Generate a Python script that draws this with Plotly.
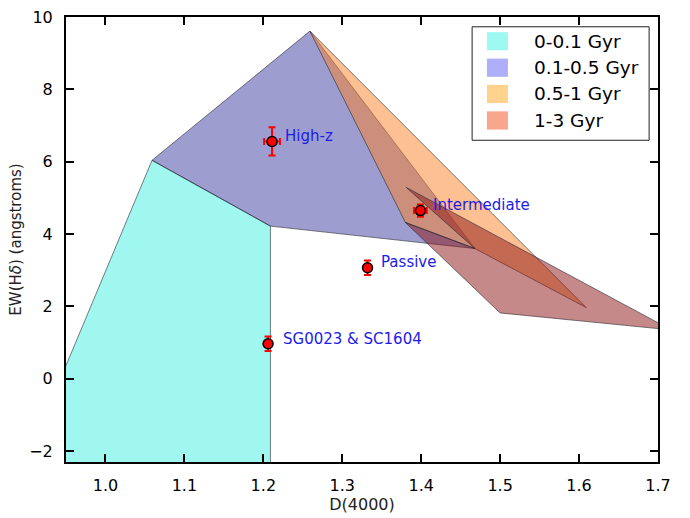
import plotly.graph_objects as go

# Age-bin regions in the D(4000) / EW(Hdelta) plane (polygon vertices)
age_labels = ["0-0.1 Gyr", "0.1-0.5 Gyr", "0.5-1 Gyr", "1-3 Gyr"]

young_d4000 = [0.893, 1.059, 1.209, 1.209]
young_ewhd = [-2.6, 6.04, 4.22, -2.6]

mid_d4000 = [1.059, 1.259, 1.468, 1.209]
mid_ewhd = [6.04, 9.61, 3.60, 4.22]

inter_d4000 = [1.259, 1.609, 1.468, 1.380]
inter_ewhd = [9.61, 1.97, 3.60, 4.32]

old_d4000 = [1.381, 1.717, 1.500, 1.380, 1.468]
old_ewhd = [5.29, 1.35, 1.82, 4.32, 3.60]

# Observed cluster samples with errors
sample_names = ["High-z", "Intermediate", "Passive", "SG0023 & SC1604"]
sample_d4000 = [1.211, 1.399, 1.332, 1.206]
sample_d4000_err = [0.010, 0.008, 0.004, 0.003]
sample_ewhd = [6.56, 4.65, 3.07, 0.97]
sample_ewhd_err = [0.39, 0.17, 0.20, 0.20]

# Region fills and legend swatches
fill_colors = ["rgba(64,240,225,0.5)", "rgba(60,60,160,0.5)",
               "rgba(250,130,40,0.5)", "rgba(140,20,20,0.5)"]
swatch_colors = ["#9ff9f3", "#afaff9", "#ffd28e", "#f9a68e"]

regions = [(young_d4000, young_ewhd), (mid_d4000, mid_ewhd),
           (inter_d4000, inter_ewhd), (old_d4000, old_ewhd)]

fig = go.Figure()

for (xs, ys), col, name in zip(regions, fill_colors, age_labels):
    fig.add_trace(go.Scatter(
        x=xs + [xs[0]], y=ys + [ys[0]], mode="lines", fill="toself",
        fillcolor=col, line=dict(color="rgba(40,40,50,0.6)", width=1),
        name=name, showlegend=False, hoverinfo="skip"))

fig.add_trace(go.Scatter(
    x=sample_d4000, y=sample_ewhd, mode="markers",
    marker=dict(color="red", size=10, line=dict(color="black", width=1.5)),
    error_x=dict(type="data", array=sample_d4000_err, color="red",
                 thickness=2, width=3.5),
    error_y=dict(type="data", array=sample_ewhd_err, color="red",
                 thickness=2, width=3.5),
    showlegend=False))

# Sample labels, placed just to the right of each point
label_dx = [0.0136, 0.0135, 0.0148, 0.0161]
label_dy = [0.16, 0.16, 0.16, 0.14]
annotations = []
for name, x, y, dx, dy in zip(sample_names, sample_d4000, sample_ewhd, label_dx, label_dy):
    annotations.append(dict(
        x=x + dx, y=y + dy, xref="x", yref="y", text=name, showarrow=False,
        xanchor="left", yanchor="middle",
        font=dict(family="DejaVu Sans", size=15, color="#1c1ce6")))

# Legend box drawn in paper coordinates
shapes = [dict(type="rect", xref="paper", yref="paper",
               x0=0.686, x1=0.985, y0=0.723, y1=0.978,
               line=dict(color="#222222", width=1), fillcolor="white",
               layer="above")]
row_y = [0.9455, 0.886, 0.827, 0.7675]
for label, col, ry in zip(age_labels, swatch_colors, row_y):
    shapes.append(dict(type="rect", xref="paper", yref="paper",
                       x0=0.711, x1=0.7465, y0=ry - 0.0205, y1=ry + 0.0205,
                       line=dict(width=0), fillcolor=col, layer="above"))
    annotations.append(dict(x=0.787, y=ry, xref="paper", yref="paper",
                            text=label, showarrow=False, xanchor="left",
                            yanchor="middle",
                            font=dict(family="DejaVu Sans", size=18.5, color="black")))

axis_common = dict(showline=True, linecolor="black", linewidth=2, mirror="ticks",
                   ticks="inside", ticklen=8, tickwidth=1.5, tickcolor="black",
                   showgrid=False, zeroline=False,
                   tickfont=dict(family="DejaVu Sans", size=16, color="black"))

fig.update_layout(
    width=690, height=518,
    margin=dict(l=66, r=32, t=8, b=51),
    paper_bgcolor="white", plot_bgcolor="white",
    xaxis=dict(range=[0.95, 1.7], tickvals=[1.0, 1.1, 1.2, 1.3, 1.4, 1.5, 1.6, 1.7],
               ticktext=["1.0", "1.1", "1.2", "1.3", "1.4", "1.5", "1.6", "1.7"],
               ticklabelstandoff=8,
               title=dict(text="D(4000)", standoff=4,
                          font=dict(family="DejaVu Sans", size=16, color="#222222")),
               **axis_common),
    yaxis=dict(range=[-2.3, 10], tickvals=[-2, 0, 2, 4, 6, 8, 10],
               ticklabelstandoff=8,
               title=dict(text="EW(H<i>δ</i>) (angstroms)", standoff=4,
                          font=dict(family="DejaVu Sans", size=15, color="#222222")),
               **axis_common),
    shapes=shapes, annotations=annotations, showlegend=False)

fig.write_html("out.html")
